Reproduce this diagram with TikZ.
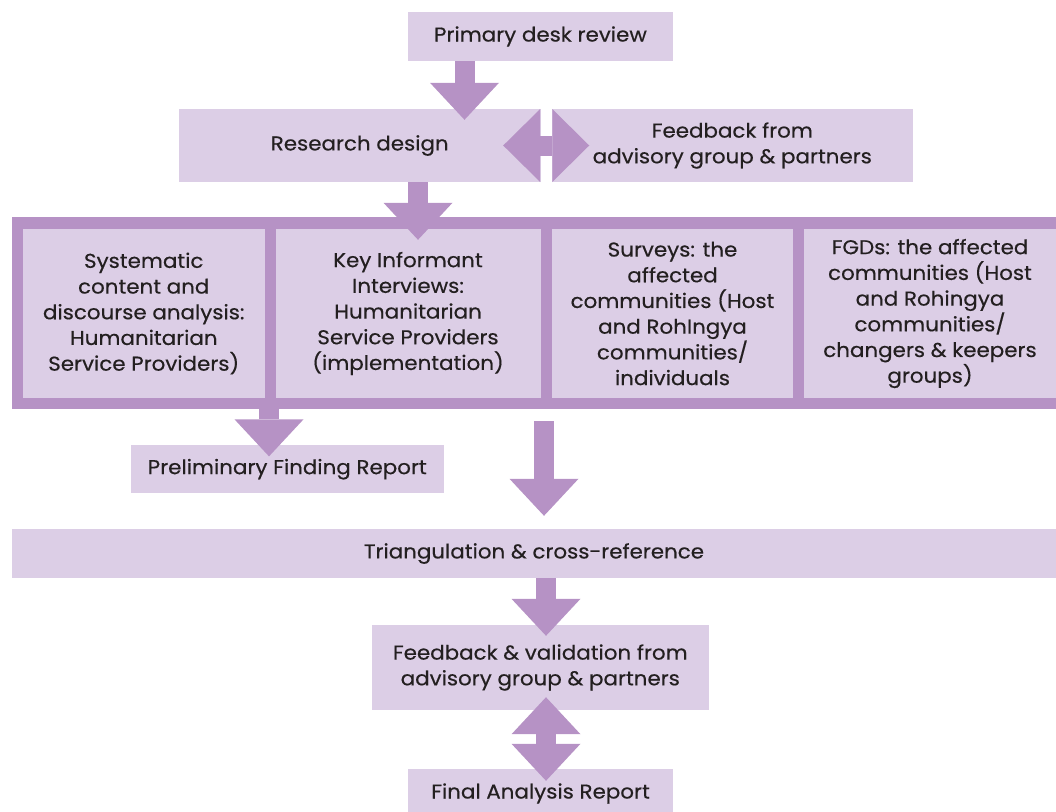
\documentclass[tikz,border=0pt]{standalone}
\usepackage{fontspec}
\setmainfont{Poppins}[FakeStretch=1.07,FakeBold=0.4]
\usetikzlibrary{arrows.meta,calc}
\definecolor{boxfill}{HTML}{DCCEE6}
\definecolor{arrowfill}{HTML}{B692C5}
\definecolor{textc}{HTML}{231F20}

\begin{document}
\begin{tikzpicture}[x=1pt,y=-1pt,
  every node/.style={font=\fontsize{20}{25.7}\selectfont, text=textc, align=center, inner sep=0pt},
  stage/.style={fill=boxfill, minimum height=49pt},
  method/.style={fill=boxfill, minimum height=169pt},
  flow/.style={draw=arrowfill, line width=20pt, -{Triangle[length=37pt,width=69pt,line width=0pt]}},
  twoway/.style={draw=arrowfill, line width=20pt,
    {Triangle[length=37pt,width=#1,line width=0pt]}-{Triangle[length=37pt,width=#1,line width=0pt]}},
  twoway/.default=69pt]
  \useasboundingbox (0,0) rectangle (1056,811);
  \clip (0,0) rectangle (1056,811);

  % top part
  \node[stage, minimum width=265pt] (desk) at (540.5,36.5) {Primary desk review};
  \node[stage, minimum width=361.5pt, minimum height=73pt] (design) at (359.75,145.5) {Research design};
  \node[stage, minimum width=360.7pt, minimum height=73pt] (advice) at (732.3,145.5) {Feedback from\\advisory group \& partners};

  % methods
  \node[fill=arrowfill, minimum width=1044pt, minimum height=192.3pt] (frame) at (534,313) {};
  \node[method, minimum width=241.5pt] (content) at (143.75,313.5) {Systematic\\content and\\discourse analysis:\\Humanitarian\\Service Providers)};
  \node[method, minimum width=265pt] (kii) at (408,313.5) {Key Informant\\Interviews:\\Humanitarian\\Service Providers\\(implementation)};
  \node[method, minimum width=241pt] (survey) at (672.5,313.5) {Surveys: the\\affected\\communities (Host\\and RohIngya\\communities/\\individuals};
  \node[method, minimum width=252pt] (fgd) at (930,313.5) {FGDs: the affected\\communities (Host\\and Rohingya\\communities/\\changers \& keepers\\groups)};

  % results
  \node[stage, minimum width=312.5pt, minimum height=48.3pt] (prelim) at (287.25,469.2) {Preliminary Finding Report};
  \node[stage, minimum width=1044pt] (triang) at (534,553.5) {Triangulation \& cross-reference};
  \node[stage, minimum width=337.3pt, minimum height=85pt] (valid) at (540.3,667.5) {Feedback \& validation from\\advisory group \& partners};
  \node[stage, minimum width=264.4pt] (final) at (540.5,793.5) {Final Analysis Report};

  % arrows
  \coordinate (ax1) at (464.5,0);
  \coordinate (ax3) at (418,0);
  \coordinate (ax4) at (269,0);
  \coordinate (ax5) at (544,0);
  \coordinate (ax6) at (546,0);
  \draw[flow] (desk.south -| ax1) -- ($(design.north -| ax1)+(0,11)$);
  \draw[twoway=73pt] ($(design.east)+(-37.5,0)$) -- ($(advice.west)+(37.5,0)$);
  \draw[flow] (design.south -| ax3) -- ($(kii.north -| ax3)+(0,11)$);
  \draw[flow] (content.south -| ax4) -- ($(prelim.north -| ax4)+(0,11.5)$);
  \draw[flow] ($(frame.south -| ax5)+(0,12)$) -- ($(triang.north -| ax5)+(0,-13)$);
  \draw[flow] (triang.south -| ax6) -- ($(valid.north -| ax6)+(0,11)$);
  \draw[twoway] ($(valid.south -| ax6)+(0,-13)$) -- ($(final.north -| ax6)+(0,12)$);
\end{tikzpicture}
\end{document}
